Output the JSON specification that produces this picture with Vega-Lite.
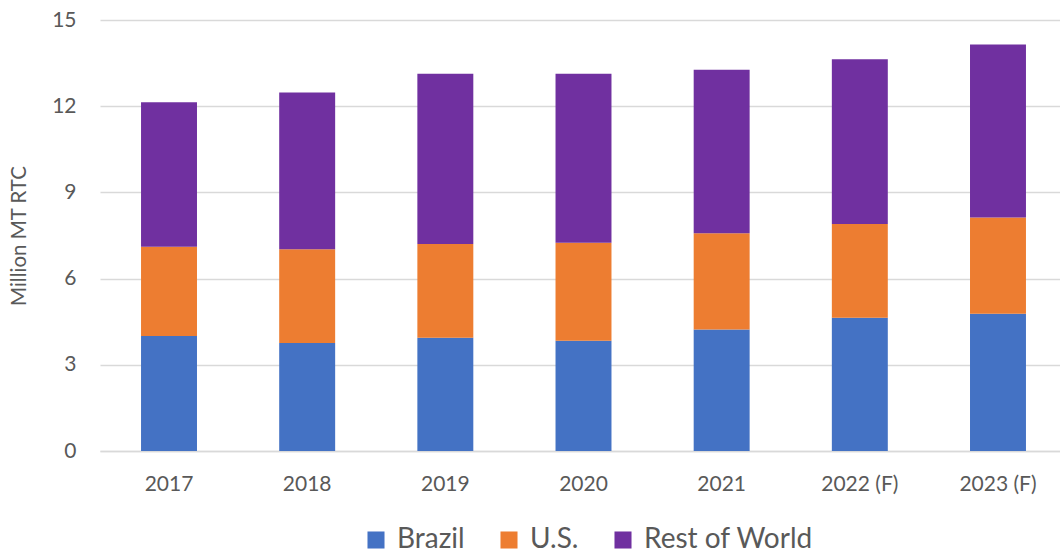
{
  "$schema": "https://vega.github.io/schema/vega-lite/v6.json",
  "width": 958,
  "height": 431,
  "autosize": {"type": "none"},
  "padding": {"left": 100, "top": 20, "right": 2, "bottom": 105},
  "background": "white",
  "config": {
    "view": {"stroke": null},
    "font": "Lato",
    "axis": {"labelFont": "Lato", "titleFont": "Lato", "labelColor": "#595959", "titleColor": "#595959"},
    "legend": {"labelFont": "Lato"}
  },
  "data": {
    "values": [
      {"year": "2017", "region": "Brazil", "k": 1, "value": 4.00},
      {"year": "2017", "region": "U.S.", "k": 2, "value": 3.11},
      {"year": "2017", "region": "Rest of World", "k": 3, "value": 5.03},
      {"year": "2018", "region": "Brazil", "k": 1, "value": 3.76},
      {"year": "2018", "region": "U.S.", "k": 2, "value": 3.26},
      {"year": "2018", "region": "Rest of World", "k": 3, "value": 5.46},
      {"year": "2019", "region": "Brazil", "k": 1, "value": 3.94},
      {"year": "2019", "region": "U.S.", "k": 2, "value": 3.26},
      {"year": "2019", "region": "Rest of World", "k": 3, "value": 5.93},
      {"year": "2020", "region": "Brazil", "k": 1, "value": 3.84},
      {"year": "2020", "region": "U.S.", "k": 2, "value": 3.41},
      {"year": "2020", "region": "Rest of World", "k": 3, "value": 5.88},
      {"year": "2021", "region": "Brazil", "k": 1, "value": 4.23},
      {"year": "2021", "region": "U.S.", "k": 2, "value": 3.35},
      {"year": "2021", "region": "Rest of World", "k": 3, "value": 5.69},
      {"year": "2022 (F)", "region": "Brazil", "k": 1, "value": 4.64},
      {"year": "2022 (F)", "region": "U.S.", "k": 2, "value": 3.26},
      {"year": "2022 (F)", "region": "Rest of World", "k": 3, "value": 5.73},
      {"year": "2023 (F)", "region": "Brazil", "k": 1, "value": 4.78},
      {"year": "2023 (F)", "region": "U.S.", "k": 2, "value": 3.35},
      {"year": "2023 (F)", "region": "Rest of World", "k": 3, "value": 6.02}
    ]
  },
  "mark": {"type": "bar"},
  "encoding": {
    "x": {
      "field": "year",
      "type": "nominal",
      "sort": null,
      "scale": {"paddingInner": 0.595, "paddingOuter": 0.297, "range": [0, 967]},
      "axis": {
        "title": null,
        "labelAngle": 0,
        "labelFontSize": 21,
        "labelPadding": 22,
        "ticks": false,
        "domain": true,
        "domainColor": "#d9d9d9",
        "domainWidth": 1.5,
        "grid": false
      }
    },
    "y": {
      "field": "value",
      "type": "quantitative",
      "aggregate": "sum",
      "stack": "zero",
      "scale": {"domain": [0, 15], "nice": false},
      "axis": {
        "title": "Million MT RTC",
        "titleFontSize": 20.5,
        "titleFontWeight": "normal",
        "titlePadding": 22,
        "values": [0, 3, 6, 9, 12, 15],
        "labelFontSize": 21,
        "labelPadding": 24,
        "ticks": false,
        "domain": false,
        "grid": true,
        "gridColor": "#d9d9d9",
        "gridWidth": 1.5
      }
    },
    "color": {
      "field": "region",
      "type": "nominal",
      "scale": {"domain": ["Brazil", "U.S.", "Rest of World"], "range": ["#4472C4", "#ED7D31", "#7030A0"]},
      "legend": {
        "title": null,
        "orient": "none",
        "direction": "horizontal",
        "legendX": 262,
        "legendY": 506,
        "symbolType": "square",
        "symbolSize": 290,
        "symbolStrokeWidth": 0,
        "labelFontSize": 28,
        "labelColor": "#595959",
        "labelOffset": 7,
        "columnPadding": 30,
        "labelLimit": 400
      }
    },
    "order": {"field": "k", "type": "quantitative"}
  }
}
